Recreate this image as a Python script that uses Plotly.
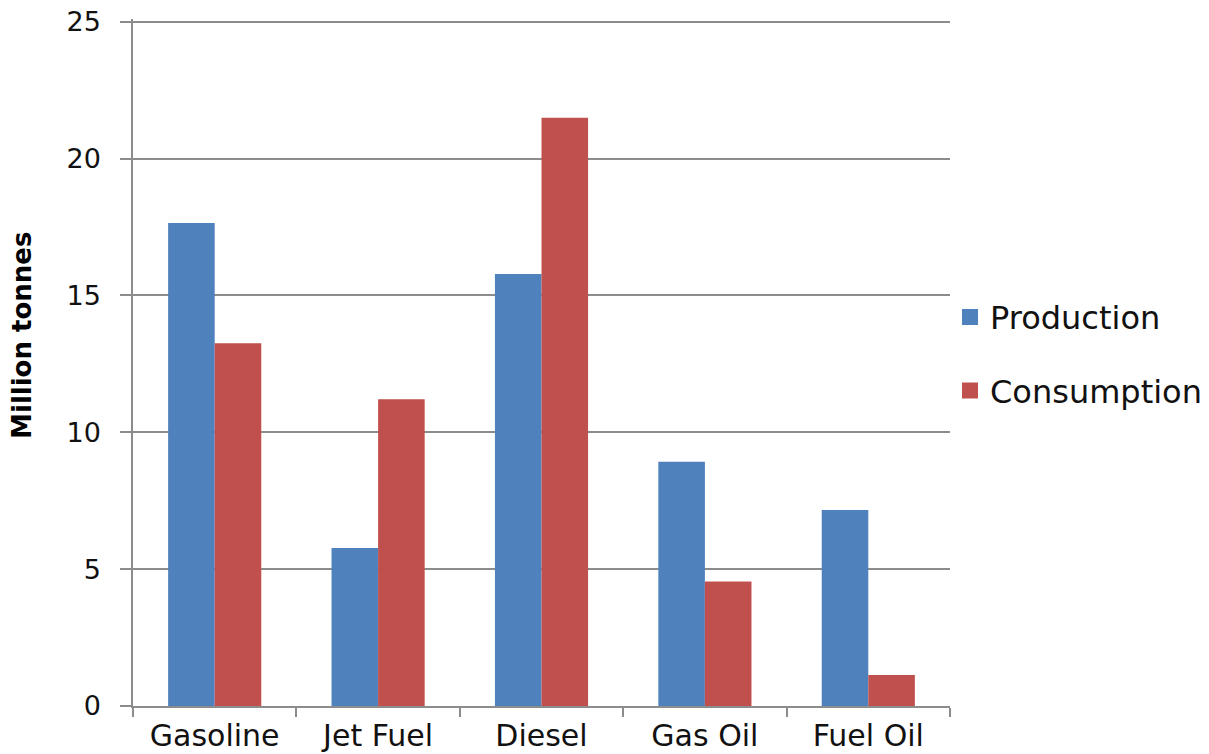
import plotly.graph_objects as go

# Refined product balance, million tonnes
products = ["Gasoline", "Jet Fuel", "Diesel", "Gas Oil", "Fuel Oil"]
production = [17.65, 5.77, 15.78, 8.92, 7.16]
consumption = [13.25, 11.21, 21.49, 4.55, 1.13]

BLUE = "#4F81BD"
RED = "#C0504D"
GRID = "#8c8c8c"
FONT = "DejaVu Sans"

fig = go.Figure()
fig.add_trace(go.Bar(x=products, y=production, name="Production",
                     marker=dict(color=BLUE, line=dict(width=0)), showlegend=False))
fig.add_trace(go.Bar(x=products, y=consumption, name="Consumption",
                     marker=dict(color=RED, line=dict(width=0)), showlegend=False))

# square legend swatches, one legend per series
fig.add_trace(go.Scatter(x=[None], y=[None], mode="markers", name="Production",
                         marker=dict(symbol="square", size=17, color=BLUE),
                         legend="legend"))
fig.add_trace(go.Scatter(x=[None], y=[None], mode="markers", name="Consumption",
                         marker=dict(symbol="square", size=17, color=RED),
                         legend="legend2"))

legend_style = dict(font=dict(family=FONT, size=32, color="#111111"),
                    bgcolor="rgba(0,0,0,0)", borderwidth=0,
                    xanchor="left", yanchor="middle", x=1.0, itemclick=False)

fig.update_layout(
    width=1209, height=754,
    margin=dict(l=133, r=259, t=19, b=48, autoexpand=False),
    paper_bgcolor="white", plot_bgcolor="white",
    barmode="group", bargap=0.43, bargroupgap=0,
    font=dict(family=FONT, size=27, color="#111111"),
    legend=dict(y=0.566, **legend_style),
    legend2=dict(y=0.459, **legend_style),
    xaxis=dict(
        showline=True, linecolor=GRID, linewidth=1.5,
        ticks="outside", tickson="boundaries", ticklen=9, tickcolor=GRID, tickwidth=1.5,
        tickfont=dict(family=FONT, size=30, color="#111111"),
        ticklabelstandoff=2,
        showgrid=False, fixedrange=True, automargin=False,
    ),
    yaxis=dict(
        # small headroom so the gridline at 25 is kept
        range=[0, 25.1], dtick=5, tick0=0,
        showline=True, linecolor=GRID, linewidth=1.5,
        showgrid=True, gridcolor=GRID, gridwidth=1.5,
        zeroline=False,
        ticks="outside", ticklen=11, tickcolor=GRID, tickwidth=1.5,
        tickfont=dict(family=FONT, size=27, color="#111111"),
        ticklabelstandoff=14,
        fixedrange=True, automargin=False,
    ),
    annotations=[dict(
        text="<b>Million tonnes</b>", textangle=-90,
        xref="paper", yref="paper", x=-0.136, y=0.54,
        xanchor="center", yanchor="middle", showarrow=False,
        font=dict(family=FONT, size=26, color="#000000"),
    )],
)

fig.write_html("out.html")
